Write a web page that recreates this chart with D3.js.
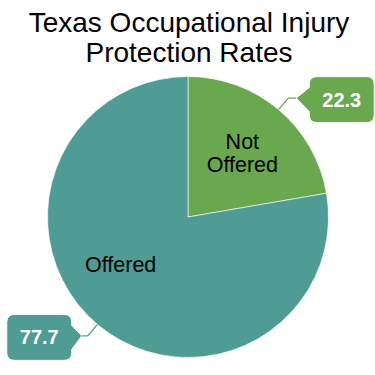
<!DOCTYPE html>
<html>
<head>
<meta charset="utf-8">
<script src="https://cdn.jsdelivr.net/npm/d3@7"></script>
<style>
  body { margin: 0; background: #fff; }
  text { font-family: "Liberation Sans", Arial, Helvetica, sans-serif; }
</style>
</head>
<body>
<div id="chart"></div>
<script>
// Chart data
var titleLines = ["Texas Occupational Injury", "Protection Rates"];
var categories = ["Not Offered", "Offered"];
var values = [22.3, 77.7];
var colors = ["#6aa84f", "#4e9c94"];

var width = 375, height = 375;
var cx = 188, cy = 217, radius = 140.5;

var svg = d3.select("#chart").append("svg")
    .attr("width", width)
    .attr("height", height);

// Title
svg.append("text")
    .attr("x", 189)
    .attr("y", 32)
    .attr("text-anchor", "middle")
    .style("font-size", "28px")
    .selectAll("tspan")
    .data(titleLines)
    .enter().append("tspan")
    .attr("x", 189)
    .attr("dy", function (d, i) { return i ? 29.5 : 0; })
    .text(function (d) { return d; });

var data = categories.map(function (c, i) { return { name: c, value: values[i], color: colors[i] }; });

var pie = d3.pie().sort(null).value(function (d) { return d.value; });
var arc = d3.arc().innerRadius(0).outerRadius(radius);
var labelArc = d3.arc().innerRadius(radius * 0.6).outerRadius(radius * 0.6);

var g = svg.append("g").attr("transform", "translate(" + cx + "," + cy + ")");
var arcs = pie(data);

// Slices
g.selectAll(".slice")
    .data(arcs)
    .enter().append("path")
    .attr("class", "slice")
    .attr("d", arc)
    .attr("fill", function (d) { return d.data.color; })
    .attr("stroke", "#fff")
    .attr("stroke-width", 0.6);

// Category labels inside slices
var labelNudge = [[0, 0], [-13, -17]];
arcs.forEach(function (d, i) {
    var c = labelArc.centroid(d);
    var x = c[0] + labelNudge[i][0], y = c[1] + labelNudge[i][1];
    var words = d.data.name === "Not Offered" ? ["Not", "Offered"] : [d.data.name];
    var lh = 23;
    var y0 = y + 8 - (words.length - 1) * lh / 2;
    words.forEach(function (w, j) {
        g.append("text")
            .attr("text-anchor", "middle")
            .style("font-size", "21.5px")
            .attr("fill", "#000")
            .attr("x", x)
            .attr("y", y0 + j * lh)
            .text(w);
    });
});

// Value callouts
var bw = 65, bh = 46, r = 8;
arcs.forEach(function (d) {
    var mid = (d.startAngle + d.endAngle) / 2;
    var sx = Math.sin(mid), sy = -Math.cos(mid);
    var p0 = [sx * radius, sy * radius];
    var p1 = [sx * (radius + 15), sy * (radius + 15)];
    var right = sx > 0;
    var dir = right ? 1 : -1;
    var tip = [p1[0] + dir * (right ? 8 : 6), p1[1]];
    var edge = tip[0] + dir * (right ? 13 : 10);
    var ty = tip[1] + 1.5;
    var top = ty - bh / 2, bot = ty + bh / 2;
    var far = edge + dir * bw;

    // leader
    var pts = [p0, p1, tip].map(function (p) { return p.join(","); }).join(" ");
    g.append("polyline")
        .attr("points", pts)
        .attr("fill", "none")
        .attr("stroke", "#fff")
        .attr("stroke-width", 3.5);
    g.append("polyline")
        .attr("points", pts)
        .attr("fill", "none")
        .attr("stroke", d.data.color)
        .attr("stroke-width", 1.3);

    // box with notch
    var x0 = Math.min(edge, far), x1 = Math.max(edge, far);
    var path = d3.path();
    path.moveTo(x0 + r, top);
    path.lineTo(x1 - r, top);
    path.quadraticCurveTo(x1, top, x1, top + r);
    if (!right) {
        path.lineTo(x1, ty - 12);
        path.lineTo(tip[0], tip[1]);
        path.lineTo(x1, ty + 12);
    }
    path.lineTo(x1, bot - r);
    path.quadraticCurveTo(x1, bot, x1 - r, bot);
    path.lineTo(x0 + r, bot);
    path.quadraticCurveTo(x0, bot, x0, bot - r);
    if (right) {
        path.lineTo(x0, ty + 12);
        path.lineTo(tip[0], tip[1]);
        path.lineTo(x0, ty - 12);
    }
    path.lineTo(x0, top + r);
    path.quadraticCurveTo(x0, top, x0 + r, top);
    path.closePath();

    g.append("path")
        .attr("d", path.toString())
        .attr("fill", d.data.color)
        .attr("stroke", "#fff")
        .attr("stroke-width", 1);

    g.append("text")
        .attr("x", (x0 + x1) / 2)
        .attr("y", ty + 7)
        .attr("text-anchor", "middle")
        .style("font-size", "20px")
        .style("font-weight", "bold")
        .attr("fill", "#fff")
        .text(d.data.value.toFixed(1));
});
</script>
</body>
</html>
